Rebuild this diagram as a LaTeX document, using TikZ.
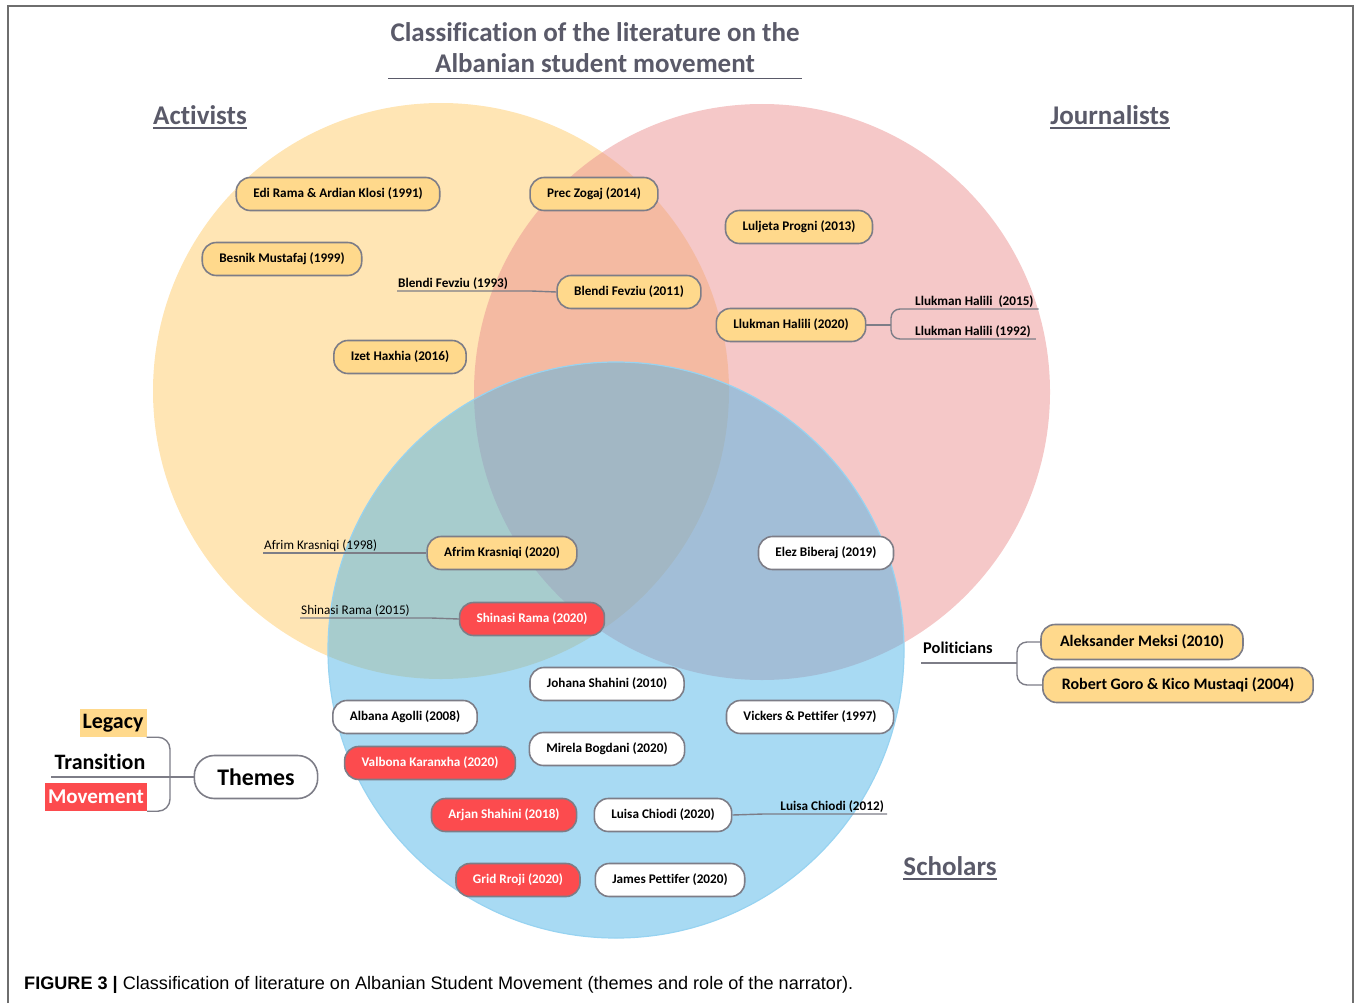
\documentclass[tikz,border=0pt]{standalone}
\usepackage{fontspec}
\setmainfont[Ligatures=NoCommon]{Carlito}
\newfontfamily\capfont{Liberation Sans}
\usetikzlibrary{positioning}
\definecolor{actcol}{RGB}{255,229,180}
\definecolor{jourcol}{RGB}{235,145,145}
\definecolor{scholcol}{RGB}{81,181,231}
\definecolor{pillcol}{RGB}{255,217,140}
\definecolor{redcol}{RGB}{252,75,78}
\definecolor{edgecol}{RGB}{125,125,135}
\definecolor{headcol}{RGB}{90,90,105}
\definecolor{framecol}{RGB}{110,110,110}
\tikzset{
	pill/.style={draw=edgecol, line width=1.6pt, rounded corners=14pt, minimum height=33pt,
		inner xsep=17pt, inner ysep=0pt, fill=pillcol, font=\fontsize{13.2}{15}\selectfont\bfseries},
	redpill/.style={pill, fill=redcol, text=white},
	whitepill/.style={pill, fill=white},
	bigpill/.style={pill, minimum height=35pt, inner xsep=19pt, font=\fontsize{16}{19}\selectfont\bfseries},
	head/.style={font=\fontsize{27}{31}\selectfont\bfseries, text=headcol, inner sep=0pt},
	side/.style={font=\fontsize{13.2}{15}\selectfont\bfseries, inner xsep=1pt, inner ysep=1pt},
	sidereg/.style={font=\fontsize{13.2}{15}\selectfont, inner xsep=1pt, inner ysep=1pt},
	theme/.style={font=\fontsize{22}{26}\selectfont\bfseries, inner sep=0pt, minimum height=28pt},
	conn/.style={draw=edgecol, line width=1.4pt},
	headline/.style={draw=headcol, line width=1.8pt},
}
\begin{document}
\begin{tikzpicture}[x=1pt,y=-1pt]
	\useasboundingbox (0,0) rectangle (1356,1003);
	\draw[framecol, line width=1.5pt] (8,1003) -- (8,6) -- (1353,6) -- (1353,1003);
	% the three circles
	\fill[actcol] (441,391) circle[radius=288pt];
	\fill[jourcol, fill opacity=0.5] (762,392) circle[radius=288pt];
	\filldraw[fill=scholcol, fill opacity=0.5, draw=scholcol!60, line width=1.2pt] (616,650) circle[radius=288pt];
	% headings
	\node[head, align=center] (title) at (595,48) {Classification of the literature on the\\Albanian student movement};
	\draw[headline, line width=1.4pt] ([xshift=-2pt,yshift=-5pt]title.south west) -- ([xshift=2pt,yshift=-5pt]title.south east);
	\node[head] (act) at (200,115) {Activists};
	\node[head] (jour) at (1110,115) {Journalists};
	\node[head] (schol) at (950,866) {Scholars};
	\foreach \h in {act,jour,schol}
		\draw[headline] ([yshift=-3pt]\h.south west) -- ([yshift=-3pt]\h.south east);
	% activists and journalists
	\node[pill] (rama91) at (338,194) {Edi Rama \& Ardian Klosi (1991)};
	\node[pill] (zogaj) at (594,194) {Prec Zogaj (2014)};
	\node[pill] (mustafaj) at (282,259) {Besnik Mustafaj (1999)};
	\node[pill] (progni) at (799,227) {Luljeta Progni (2013)};
	\node[pill] (fevziu11) at (629,292) {Blendi Fevziu (2011)};
	\node[pill] (halili20) at (791,325) {Llukman Halili (2020)};
	\node[pill] (haxhia) at (400,357) {Izet Haxhia (2016)};
	\node[side, anchor=south west] (fevziu93) at (397,291) {Blendi Fevziu (1993)};
	\node[side, anchor=south west, inner xsep=5pt] (halili15) at (910,309) {Llukman Halili~ (2015)};
	\node[side, anchor=south west, inner xsep=5pt] (halili92) at (910,339) {Llukman Halili (1992)};
	\draw[conn] (fevziu93.south west) -- ([xshift=22pt]fevziu93.south east) -- (fevziu11.west);
	\coordinate (halfork) at (891,325);
	\draw[conn] (halili20.east) -- (halfork);
	\draw[conn, rounded corners=9pt] (halili15.south east) -- (halili15.south west) -- (halfork |- halili15.south)
		-- (halfork |- halili92.south) -- (halili92.south west) -- (halili92.south east);
	% scholars
	\node[pill] (krasniqi20) at (502,553) {Afrim Krasniqi (2020)};
	\node[whitepill] (biberaj) at (826,553) {Elez Biberaj (2019)};
	\node[redpill] (shinasi20) at (532,619) {Shinasi Rama (2020)};
	\node[sidereg, anchor=south west] (krasniqi98) at (263,553) {Afrim Krasniqi (1998)};
	\node[sidereg, anchor=south west] (shinasi15) at (300,618) {Shinasi Rama (2015)};
	\draw[conn] (krasniqi98.south west) -- ([xshift=22pt]krasniqi98.south east) -- (krasniqi20.west);
	\draw[conn] (shinasi15.south west) -- ([xshift=20pt]shinasi15.south east) -- (shinasi20.west);
	\node[whitepill] (jshahini) at (607,684) {Johana Shahini (2010)};
	\node[whitepill] (agolli) at (405,717) {Albana Agolli (2008)};
	\node[whitepill] (vickers) at (810,717) {Vickers \& Pettifer (1997)};
	\node[whitepill] (bogdani) at (607,749) {Mirela Bogdani (2020)};
	\node[redpill] (karanxha) at (430,763) {Valbona Karanxha (2020)};
	\node[redpill] (ashahini) at (504,815) {Arjan Shahini (2018)};
	\node[whitepill] (chiodi20) at (663,815) {Luisa Chiodi (2020)};
	\node[redpill] (rroji) at (518,880) {Grid Rroji (2020)};
	\node[whitepill] (pettifer) at (670,880) {James Pettifer (2020)};
	\node[side, anchor=south east, inner xsep=3pt] (chiodi12) at (887,814) {Luisa Chiodi (2012)};
	\draw[conn] (chiodi20.east) -- ([xshift=-14pt]chiodi12.south west) -- (chiodi12.south east);
	% politicians
	\node[bigpill] (meksi) at (1142,642) {Aleksander Meksi (2010)};
	\node[bigpill] (goro) at (1178,685) {Robert Goro \& Kico Mustaqi (2004)};
	\node[font=\fontsize{16.4}{19}\selectfont\bfseries, anchor=base west, inner xsep=2pt] (pol) at (921,653) {Politicians};
	\coordinate (polfork) at (1017,663);
	\draw[conn] (pol.base west |- polfork) -- (polfork);
	\draw[conn, rounded corners=10pt] (meksi.west) -- (polfork |- meksi.west) -- (polfork |- goro.west) -- (goro.west);
	% themes
	\node[whitepill, minimum height=43pt, rounded corners=20pt, inner xsep=23pt, font=\fontsize{23.8}{28}\selectfont\bfseries] (themes) at (256,777) {Themes};
	\node[theme, fill=pillcol, minimum width=67pt] (legacy) at (113,723) {Legacy};
	\node[theme, inner xsep=3pt] (trans) at (100,762) {Transition};
	\node[theme, fill=redcol, text=white, minimum width=102pt, font=\fontsize{21}{25}\selectfont\bfseries] (movement) at (96,797) {Movement};
	\coordinate (themfork) at (170,777);
	\draw[conn] (themes.west) -- (trans.west |- themes.west);
	\draw[conn, rounded corners=12pt] (legacy.south east) -- (themfork |- legacy.south) -- (themfork |- movement.south) -- (movement.south east);
	% caption
	\node[anchor=west, inner sep=0pt, font=\capfont\fontsize{18.1}{21}\selectfont] (caption) at (24,985)
		{\textbf{FIGURE 3 |} Classification of literature on Albanian Student Movement (themes and role of the narrator).};
\end{tikzpicture}
\end{document}
